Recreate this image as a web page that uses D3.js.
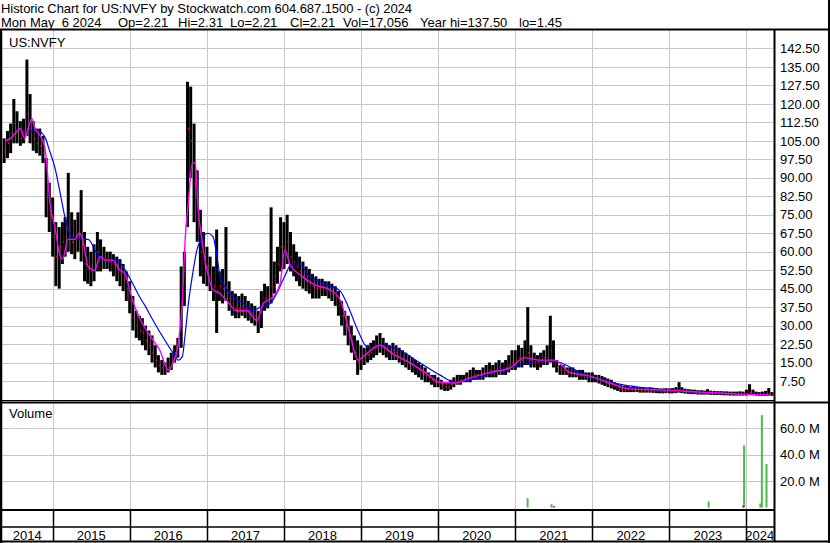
<!DOCTYPE html>
<html>
<head>
<meta charset="utf-8">
<script src="https://cdn.jsdelivr.net/npm/d3@7"></script>
<style>
  body { margin: 0; background: #fff; }
  svg text { font-family: "Liberation Sans", Arial, sans-serif; font-size: 13px; fill: #000; white-space: pre; }
</style>
</head>
<body>
<div id="chart"></div>
<script>
'use strict';

// ---- data ---------------------------------------------------------------
var headerLine1 = 'Historic Chart for US:NVFY by Stockwatch.com 604.687.1500 - (c) 2024';
var headerLine2 = ['Mon May  6 2024', 'Op=2.21', 'Hi=2.31', 'Lo=2.21', 'Cl=2.21', 'Vol=17,056', 'Year hi=137.50', 'lo=1.45'];
var symbol = 'US:NVFY';

var priceTicks = [7.5, 15, 22.5, 30, 37.5, 45, 52.5, 60, 67.5, 75, 82.5, 90, 97.5, 105, 112.5, 120, 127.5, 135, 142.5];
var volumeTicks = [20, 40, 60];
var yearLabels = ['2014', '2015', '2016', '2017', '2018', '2019', '2020', '2021', '2022', '2023', '2024'];

// half-month bars, 16 May 2014 .. 1 May 2024 (one row per year)
var priceHi = [
  106,109,112,122,117,113,114,138,124,113,110,110,107,98,88,
  82,72,70,72,74,92,76,73,76,85,68,62,60,63,68,65,62,60,60,59,58,57,55,52,
  48,42,36,34,33,30,28,26,22,18,16,15,17,19,22,25,54,60,129,127,112,93,77,68,
  62,58,54,69,52,53,70,48,44,43,42,43,42,40,39,38,36,44,47,46,78,56,62,74,
  72,75,68,63,60,58,56,54,53,51,50,49,49,48,48,47,46,44,40,36,34,30,26,24,
  22,21,22,23,24,26,27,25,23,22,23,22,21,20,19,18,17,16,15,14,13,11,10,10,
  9,8,7,7,8,9,10,10,10,11,12,13,12,12,13,14,15,14,15,16,15,16,18,20,
  20,22,21,24,37.5,22,19,18,19,20,22,34,24,16,14,14,13,13,13,12,12,12,11,11,
  11,10,10,9.5,9,8.5,8,7,6.5,6,5.5,5.5,5,5.5,5,5,5,4.8,5,4.8,4.6,4.5,4.5,4.6,
  4.5,4.6,5,7,5,4.4,4.2,4,4,3.8,3.8,3.6,4.2,3.6,3.5,3.4,3.4,3.3,3.3,3.2,3.2,3.2,3.3,3.2,
  4,6.2,4,3.2,3,3.2,3.5,4.7,3
];
var priceLo = [
  96,98,100,104,104,103,104,107,104,101,100,99,96,74,68,
  58,46,45,55,58,60,59,57,60,56,48,47,46,48,52,52,53,53,52,50,48,46,44,40,
  35,28,25,24,22,20,18,15,13,11,10,10,11,12,15,17,21,38,70,90,72,64,50,47,
  46,44,40,27,40,39,40,36,34,33,33,34,33,32,31,30,27,29,36,37,39,43,47,52,
  53,55,52,50,48,46,45,44,43,41,41,41,42,42,41,40,38,34,30,26,22,19,16,10,
  12,14,15,16,17,18,19,18,17,16,16,16,15,14,13,12,11,10,9,8,7,7,6,5,
  5,4,3.5,3.5,4,5,6,6,7,7,7,8,8,8,8,9,9,9,9,10,10,10,11,12,
  12,13,13,14,14,13,13,12,13,14,14,15,13,11,10,10,10,9,9,9,8,8,8,7,
  7,7,6.5,6,5.5,5,4.5,4,3.5,3,3,3,3,3,3,2.8,2.8,2.8,2.8,2.7,2.6,2.5,2.5,2.6,
  2.5,2.5,2.6,2.8,2.6,2.4,2.3,2.2,2.2,2,2,2,2,1.9,1.8,1.8,1.8,1.7,1.7,1.6,1.6,1.6,1.6,1.6,
  1.6,1.8,1.7,1.6,1.5,1.5,1.5,1.6,1.5
];
var priceClose = [
  101,104,108,112,108,106,109,116,110,106,104,103,100,82,75,
  66,58,62,64,66,70,64,66,68,62,55,53,52,57,60,58,57,57,56,55,53,51,49,45,
  40,33,30,28,27,24,22,19,16,14,13,12,13,16,19,22,40,52,110,105,88,75,60,55,
  54,50,46,44,46,45,46,41,39,37,37,38,37,36,35,34,31,38,41,42,46,50,55,62,
  62,64,58,56,54,52,50,48,47,46,45,45,46,45,44,43,42,38,34,30,26,23,19,15,
  17,17,18,19,21,21,22,21,20,19,20,19,18,17,16,15,14,13,12,11,10,9,8,7,
  7,6,5,5,6,7,8,8,8,9,9,10,10,10,11,11,12,11,12,13,12,13,14,15,
  16,17,16,17,19,16,15,15,16,17,17,20,16,13,12,12,11,11,11,10,10,10,9,9,
  9,8.5,8,7.5,7,6.5,6,5.5,5,4.5,4,4,4,4,4,3.8,3.8,3.6,3.6,3.5,3.4,3.3,3.3,3.4,
  3.3,3.4,3.5,4,3.4,3.2,3,3,2.9,2.8,2.8,2.7,2.8,2.6,2.5,2.5,2.4,2.4,2.3,2.3,2.3,2.2,2.2,2.2,
  2.4,2.8,2.4,2.2,2.1,2.2,2.3,2.4,2.2
];

// moving averages as [decimal year, value]
var maFast = [
  [2014.38,105],[2014.45,106],[2014.51,108],[2014.58,110],[2014.64,106],[2014.68,110],[2014.73,114],
  [2014.77,110],[2014.84,107],[2014.90,102],[2014.94,89],[2014.96,81],[2015.03,70],[2015.09,59],
  [2015.13,57],[2015.20,65],[2015.29,65],[2015.35,67.5],[2015.39,65],[2015.46,54],[2015.55,52.5],
  [2015.61,58],[2015.68,56.6],[2015.78,56.6],[2015.87,52.6],[2015.94,51],[2016.00,44.5],[2016.04,40],
  [2016.13,33],[2016.26,26],[2016.39,20],[2016.50,12],[2016.56,14.8],[2016.63,23],[2016.68,39],
  [2016.72,66],[2016.76,80],[2016.81,96],[2016.85,96],[2016.88,80],[2016.94,63.5],[2017.00,52.6],
  [2017.08,44.5],[2017.17,43],[2017.26,40],[2017.39,36],[2017.52,36],[2017.65,32],[2017.73,39],
  [2017.86,41.7],[2017.95,47],[2018.01,60.7],[2018.08,54.6],[2018.21,50.6],[2018.40,46.5],
  [2018.60,44.5],[2018.73,40.4],[2018.86,26.2],[2018.96,16],[2019.05,18],[2019.24,22],[2019.44,18],
  [2019.63,15],[2019.83,11],[2020.02,7],[2020.22,6.7],[2020.41,8.7],[2020.67,11],[2020.93,12.8],
  [2021.12,17],[2021.32,16],[2021.51,16],[2021.71,11],[2021.97,9.5],[2022.23,6.7],[2022.49,4.3],
  [2022.88,3.9],[2023.40,3],[2023.91,2.2],[2024.30,1.8]
];
var maSlow = [
  [2014.64,109],[2014.81,109],[2014.90,106.5],[2014.96,101],[2015.03,94],[2015.09,85],[2015.16,74],
  [2015.22,67.5],[2015.31,65],[2015.46,65],[2015.55,60.7],[2015.61,57.5],[2015.70,56.6],[2015.83,56.6],
  [2015.94,52.6],[2016.04,47],[2016.13,41.6],[2016.20,38],[2016.26,34.5],[2016.39,27.4],[2016.56,19],
  [2016.63,16],[2016.68,17.3],[2016.72,27],[2016.76,39],[2016.81,50],[2016.87,60.7],[2016.95,66],
  [2017.01,67.5],[2017.08,66],[2017.13,58],[2017.17,50],[2017.23,46],[2017.34,41.7],[2017.47,39],
  [2017.60,36],[2017.69,37.5],[2017.82,39],[2017.92,44],[2018.01,50],[2018.10,55],[2018.20,55],
  [2018.33,50],[2018.53,47],[2018.73,44],[2018.83,38],[2018.96,28],[2019.09,21],[2019.31,22],
  [2019.50,20],[2019.76,15],[2020.02,10],[2020.22,7],[2020.48,8.5],[2020.80,12],[2021.06,14],
  [2021.38,16],[2021.58,15],[2021.84,11],[2022.10,8],[2022.49,5.5],[2022.88,3.9],[2023.40,3],
  [2023.91,2.3],[2024.30,1.9]
];

// volume in millions
var volumeDates = [2021.16, 2021.47, 2023.51, 2023.97, 2024.18, 2024.20, 2024.26];
var volumeUp    = [7, 2.5, 4.5, 47, 3, 70, 33];
var volumeDownDates = [2021.50, 2023.96];
var volumeDown      = [1, 1.5];

// -------------------------------------------------------------------------
function historicChart()
{
    var scope = this || {};
    var exports = {};

    scope.width = 830;
    scope.height = 543;
    scope.left = 2;
    scope.right = 773;
    scope.main = {top: 30, bottom: 399.5};
    scope.vol  = {top: 403, bottom: 509};

    scope.grid = '#c8c8c8';

    scope.yearToDate = function(y)
    {
        var yr = Math.floor(y);
        var a = new Date(yr, 0, 1), b = new Date(yr + 1, 0, 1);
        return new Date(+a + (y - yr) * (b - a));
    }

    scope.barDate = function(i)
    {
        return new Date(2014, 4 + Math.floor((i + 1) / 2), (i % 2 === 0) ? 16 : 1);
    }

    scope.createScales = function()
    {
        scope.xScale = d3.scaleTime()
            .domain([new Date(2014, 4, 6), new Date(2024, 4, 6)])
            .range([scope.left, scope.right]);
        scope.yScale = d3.scaleLinear().domain([0, 150]).range([scope.main.bottom, scope.main.top]);
        scope.vScale = d3.scaleLinear().domain([0, 80]).range([507.5, 401.9]);
    }

    scope.drawGrid = function(svg)
    {
        var years = d3.timeYear.range(new Date(2015, 0, 1), new Date(2024, 4, 6));
        var g = svg.append('g').attr('stroke', scope.grid).attr('stroke-width', 1);

        g.selectAll('.hp').data(priceTicks).enter().append('line')
            .attr('x1', scope.left).attr('x2', scope.right)
            .attr('y1', function(d){ return Math.round(scope.yScale(d)) + 0.5; })
            .attr('y2', function(d){ return Math.round(scope.yScale(d)) + 0.5; });

        g.selectAll('.hv').data(volumeTicks).enter().append('line')
            .attr('x1', scope.left).attr('x2', scope.right)
            .attr('y1', function(d){ return Math.round(scope.vScale(d)) + 0.5; })
            .attr('y2', function(d){ return Math.round(scope.vScale(d)) + 0.5; });

        g.selectAll('.vm').data(years).enter().append('line')
            .attr('x1', function(d){ return Math.round(scope.xScale(d)) + 0.5; })
            .attr('x2', function(d){ return Math.round(scope.xScale(d)) + 0.5; })
            .attr('y1', scope.main.top).attr('y2', scope.main.bottom);

        g.selectAll('.vv').data(years).enter().append('line')
            .attr('x1', function(d){ return Math.round(scope.xScale(d)) + 0.5; })
            .attr('x2', function(d){ return Math.round(scope.xScale(d)) + 0.5; })
            .attr('y1', scope.vol.top).attr('y2', scope.vol.bottom);

        // year strip at the bottom
        var s = svg.append('g').attr('stroke', '#000').attr('stroke-width', 1.5);
        s.selectAll('line').data(years).enter().append('line')
            .attr('x1', function(d){ return Math.round(scope.xScale(d)) + 0.5; })
            .attr('x2', function(d){ return Math.round(scope.xScale(d)) + 0.5; })
            .attr('y1', 510).attr('y2', 541);

        var bounds = [new Date(2014, 4, 6)].concat(years).concat([new Date(2024, 4, 6)]);
        svg.append('g').selectAll('text').data(yearLabels).enter().append('text')
            .attr('x', function(d, i){ return (scope.xScale(bounds[i]) + scope.xScale(bounds[i + 1])) / 2; })
            .attr('y', 540)
            .attr('text-anchor', 'middle')
            .text(function(d){ return d; });
    }

    scope.drawFrame = function(svg)
    {
        var f = svg.append('g').attr('stroke', '#000');
        f.append('line').attr('x1', 0).attr('x2', scope.width).attr('y1', 29.5).attr('y2', 29.5).attr('stroke-width', 2);
        f.append('line').attr('x1', 1).attr('x2', 1).attr('y1', 29).attr('y2', 543).attr('stroke-width', 2.5);
        f.append('line').attr('x1', 829).attr('x2', 829).attr('y1', 0).attr('y2', 543).attr('stroke-width', 2);
        f.append('line').attr('x1', 0).attr('x2', scope.width).attr('y1', 541.5).attr('y2', 541.5).attr('stroke-width', 2);
        f.append('line').attr('x1', 774.5).attr('x2', 774.5).attr('y1', 29).attr('y2', 542).attr('stroke-width', 2);
        f.append('line').attr('x1', 2).attr('x2', 775).attr('y1', 400.5).attr('y2', 400.5).attr('stroke-width', 1);
        f.append('line').attr('x1', 0).attr('x2', scope.width).attr('y1', 402.5).attr('y2', 402.5).attr('stroke-width', 2);
        f.append('line').attr('x1', 0).attr('x2', 775).attr('y1', 510).attr('y2', 510).attr('stroke-width', 2);
        f.append('line').attr('x1', 0).attr('x2', 775).attr('y1', 527).attr('y2', 527).attr('stroke-width', 1.5);
    }

    scope.drawAxes = function(svg)
    {
        var pAxis = d3.axisRight(scope.yScale).tickValues(priceTicks)
            .tickSize(0).tickPadding(5).tickFormat(d3.format('.2f'));
        var vAxis = d3.axisRight(scope.vScale).tickValues(volumeTicks)
            .tickSize(0).tickPadding(5).tickFormat(function(d){ return d3.format('.1f')(d) + ' M'; });

        var pa = svg.append('g').attr('transform', 'translate(775,0)').call(pAxis);
        var va = svg.append('g').attr('transform', 'translate(775,0)').call(vAxis);
        [pa, va].forEach(function(a){
            a.select('.domain').remove();
            a.attr('font-size', null).attr('font-family', null);
            a.selectAll('text').attr('fill', '#000');
        });
    }

    scope.drawPrice = function(svg)
    {
        var bars = priceHi.map(function(h, i){
            return {date: scope.barDate(i), hi: h, lo: priceLo[i], close: priceClose[i]};
        });

        svg.append('g').selectAll('rect').data(bars).enter().append('rect')
            .attr('x', function(d){ return scope.xScale(d.date) - 1.5; })
            .attr('width', 3)
            .attr('y', function(d){ return scope.yScale(d.hi); })
            .attr('height', function(d){ return Math.max(1, scope.yScale(d.lo) - scope.yScale(d.hi)); })
            .attr('fill', '#000');

        svg.append('g').selectAll('rect').data(bars).enter().append('rect')
            .attr('x', function(d){ return scope.xScale(d.date) + 0.3; })
            .attr('width', 1.4)
            .attr('y', function(d){ return scope.yScale(d.close) - 0.7; })
            .attr('height', 1.4)
            .attr('fill', '#ff0000');

        var line = d3.line()
            .x(function(d){ return scope.xScale(scope.yearToDate(d[0])); })
            .y(function(d){ return scope.yScale(d[1]); })
            .curve(d3.curveMonotoneX);

        svg.append('path').datum(maSlow).attr('d', line)
            .attr('fill', 'none').attr('stroke', '#0000ff').attr('stroke-width', 1.2);
        svg.append('path').datum(maFast).attr('d', line)
            .attr('fill', 'none').attr('stroke', '#ff00ff').attr('stroke-width', 1.4);
    }

    scope.drawVolume = function(svg)
    {
        var up = volumeDates.map(function(d, i){ return {date: scope.yearToDate(d), v: volumeUp[i]}; });
        var dn = volumeDownDates.map(function(d, i){ return {date: scope.yearToDate(d), v: volumeDown[i]}; });

        svg.append('g').selectAll('rect').data(up).enter().append('rect')
            .attr('x', function(d){ return scope.xScale(d.date) - 1; })
            .attr('width', 2)
            .attr('y', function(d){ return scope.vScale(d.v); })
            .attr('height', function(d){ return scope.vScale(0) - scope.vScale(d.v); })
            .attr('fill', '#4cb84c');

        svg.append('g').selectAll('rect').data(dn).enter().append('rect')
            .attr('x', function(d){ return scope.xScale(d.date) - 1; })
            .attr('width', 2)
            .attr('y', function(d){ return scope.vScale(d.v); })
            .attr('height', function(d){ return scope.vScale(0) - scope.vScale(d.v); })
            .attr('fill', '#ff0000');
    }

    scope.drawText = function(svg)
    {
        // header: first line stretched to the reference width, second line placed word group by group
        svg.append('text').attr('x', 1).attr('y', 12.5)
            .attr('textLength', 411).attr('lengthAdjust', 'spacing')
            .text(headerLine1);

        var slots = [1, 118, 178, 230, 290, 343, 420, 519];
        svg.append('g').selectAll('text').data(headerLine2).enter().append('text')
            .attr('x', function(d, i){ return slots[i]; })
            .attr('y', 27.3)
            .text(function(d){ return d; });

        svg.append('text').attr('x', 9).attr('y', 46.5).text(symbol);
        svg.append('text').attr('x', 9).attr('y', 418).text('Volume');
    }

    //------------- exported API -----------------------------------

    exports.run = function(div)
    {
        var svg = d3.select(div).append('svg')
            .attr('width', scope.width)
            .attr('height', scope.height);

        svg.append('rect').attr('width', scope.width).attr('height', scope.height).attr('fill', '#fff');

        scope.createScales();
        scope.drawGrid(svg);
        scope.drawPrice(svg);
        scope.drawVolume(svg);
        scope.drawFrame(svg);
        scope.drawAxes(svg);
        scope.drawText(svg);
    }

    return exports;
}

historicChart.call({}).run('#chart');
</script>
</body>
</html>
